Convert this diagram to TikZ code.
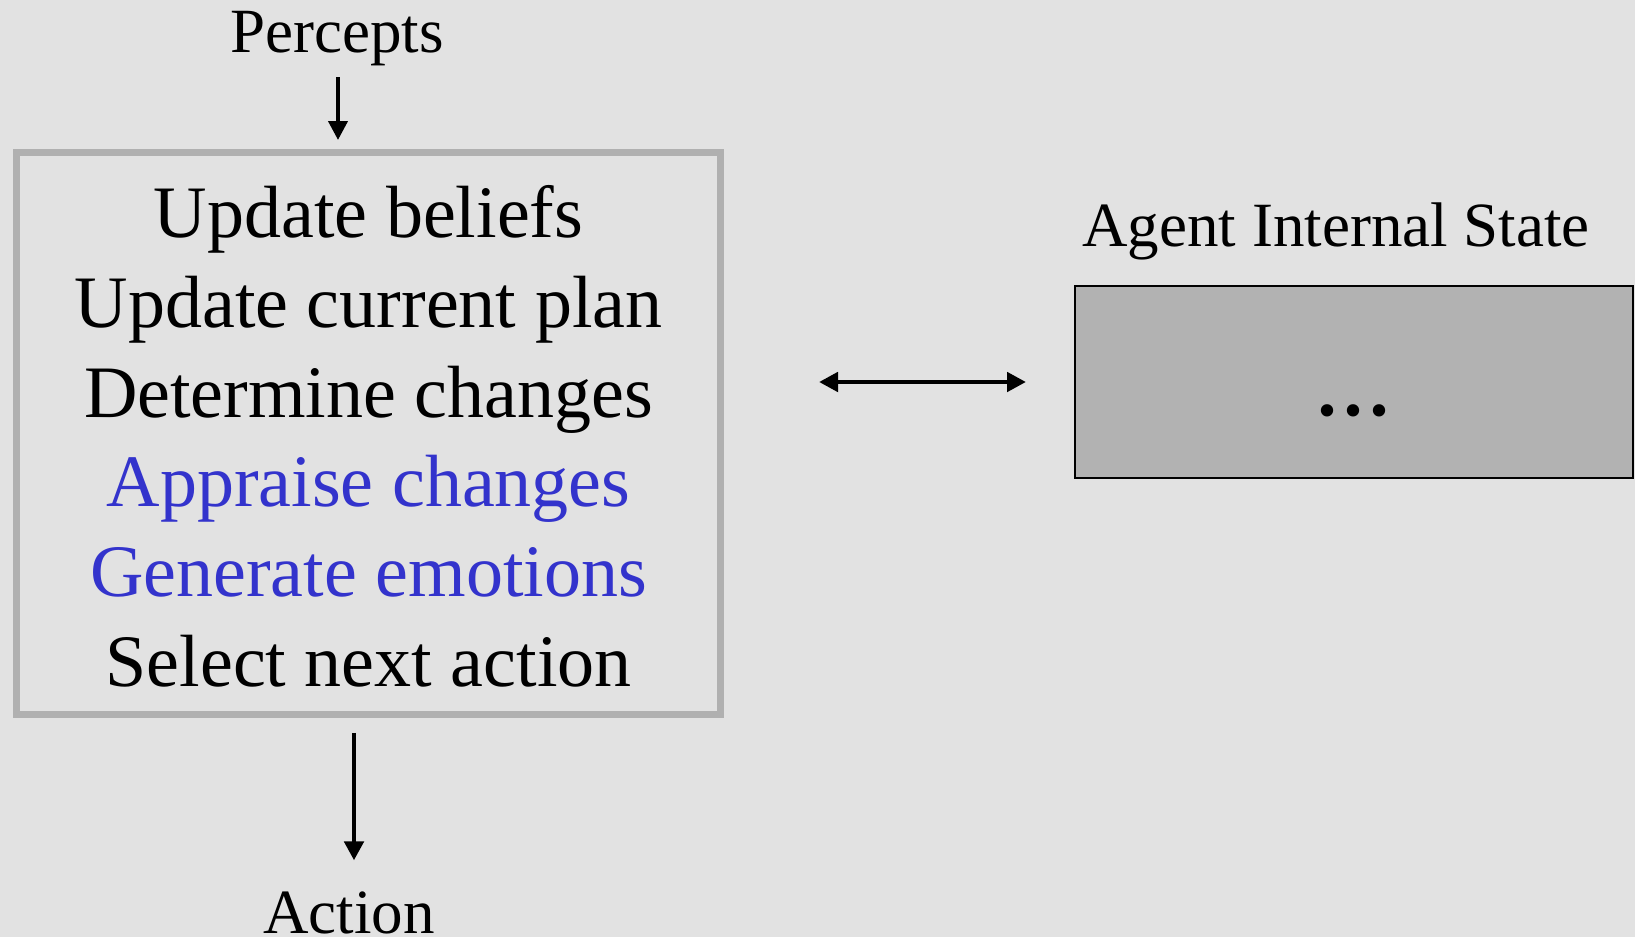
\documentclass[tikz,border=0pt]{standalone}
\usepackage{fontspec}
\setmainfont{Liberation Serif}
\usetikzlibrary{arrows.meta}
\definecolor{bgc}{RGB}{226,226,226}
\definecolor{framec}{RGB}{176,176,176}
\definecolor{statec}{RGB}{178,178,178}
\definecolor{bluec}{RGB}{51,51,204}
\begin{document}
\begin{tikzpicture}[x=0.5pt,y=-0.5pt,
  big/.style={font=\fontsize{37}{44}\selectfont, inner sep=0pt, anchor=base},
  mid/.style={font=\fontsize{31.5}{38}\selectfont, inner sep=0pt, anchor=base},
  arr/.style={-{Triangle[length=9.5pt,width=9.5pt]}, line width=2.4pt}]
\fill[bgc] (0,0) rectangle (1635,937);
\useasboundingbox (0,0) rectangle (1635,937);
% main loop box
\node[draw=framec, line width=3.5pt, minimum width=352pt, minimum height=281pt, inner sep=0pt] (loop) at (368.6,433.7) {};
\node[big] (l1) at (368.6,237.7) {Update beliefs};
\node[big] (l2) at (368.6,327.4) {Update current plan};
\node[big] (l3) at (368.6,417) {Determine changes};
\node[big, text=bluec] (l4) at (368.6,506.7) {Appraise changes};
\node[big, text=bluec] (l5) at (368.6,596.4) {Generate emotions};
\node[big] (l6) at (368.6,686) {Select next action};
% labels
\node[mid] (perc) at (337,53) {Percepts};
\node[mid] (act) at (349,933) {Action};
\node[mid] (ais) at (1336,246) {Agent Internal State};
% state box
\node[draw=black, line width=1pt, fill=statec, minimum width=279pt, minimum height=96pt, inner sep=0pt] (state) at (1354,382) {};
\node[font=\fontsize{52}{60}\selectfont, inner sep=0pt, anchor=base] (dots) at (1353,415) {.\kern0pt.\kern0pt.};
% connectors
\coordinate (percx) at ([xshift=0.5pt]perc.south);
\coordinate (actx) at ([xshift=2.5pt]act.north);
\draw[arr, line width=2pt, shorten <=5.15pt, shorten >=4.6pt] (percx) -- (percx |- loop.north);
\draw[arr, shorten <=7.35pt, shorten >=15.25pt] (actx |- loop.south) -- (actx);
\draw[{Triangle[length=9.5pt,width=9.5pt]}-{Triangle[length=9.5pt,width=9.5pt]}, line width=2.4pt, shorten <=47.45pt, shorten >=24pt] (loop.east |- state.west) -- (state.west);
\end{tikzpicture}
\end{document}
